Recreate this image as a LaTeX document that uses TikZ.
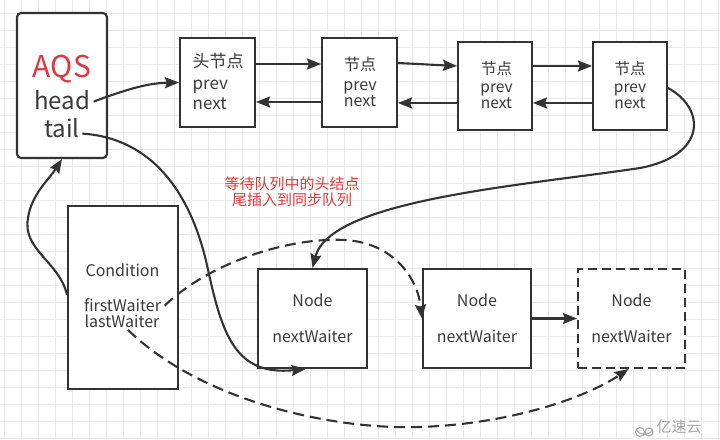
\documentclass[tikz,border=0pt]{standalone}
\usepackage{fontspec}
\setmainfont{Noto Sans CJK SC}
\usetikzlibrary{arrows.meta,calc}
\definecolor{ink}{HTML}{333333}
\definecolor{txtc}{HTML}{3A3A3A}
\definecolor{redt}{HTML}{E0383E}
\definecolor{gridminor}{HTML}{EAEAEA}
\definecolor{wm}{HTML}{A8A8A8}
\begin{document}
\begin{tikzpicture}[x=1pt,y=-1pt,
  box/.style={draw=ink,line width=2.1pt,fill=white,inner sep=0pt},
  dbox/.style={box,dash pattern=on 9pt off 5pt},
  txt/.style={text=txtc,inner sep=0.5pt,anchor=base,font=\fontsize{16}{16}\selectfont},
  arr/.style={draw=ink,line width=2.1pt,-{Stealth[length=14pt,width=11pt,inset=2pt]}},
  dsh/.style={arr,dash pattern=on 11pt off 6pt}]
\useasboundingbox (0,0) rectangle (720,439);
\fill[white] (0,0) rectangle (720,439);
\foreach \i in {0,...,42} {
  \draw[gridminor,line width=0.7pt] ({4.7+17*\i},0) -- ({4.7+17*\i},439);
}
\foreach \i in {0,...,26} {
  \draw[gridminor,line width=0.7pt] (0,{13+17*\i}) -- (720,{13+17*\i});
}
% boxes
\node[box,rounded corners=4pt,minimum width=90pt,minimum height=145pt] (aqs) at (62,85.5) {};
\node[box,minimum width=75pt,minimum height=89pt] (b1) at (217.5,82.5) {};
\node[box,minimum width=75pt,minimum height=89pt] (b2) at (359.5,82.5) {};
\node[box,minimum width=74pt,minimum height=88pt] (b3) at (495,86) {};
\node[box,minimum width=74pt,minimum height=88pt] (b4) at (630,86) {};
\node[box,minimum width=110pt,minimum height=183pt] (cond) at (123,297.5) {};
\node[box,minimum width=109pt,minimum height=99pt] (n1) at (312.5,318.5) {};
\node[box,minimum width=108pt,minimum height=99pt] (n2) at (477,318.5) {};
\node[dbox,minimum width=107pt,minimum height=99pt] (n3) at (631.5,318.5) {};
% texts
\node[txt,text=redt,font=\fontsize{30}{30}\selectfont] (aqst) at (62,77) {AQS};
\node[txt,font=\fontsize{24}{24}\selectfont] (head) at (62,109) {head};
\node[txt,font=\fontsize{24}{24}\selectfont] (tail) at (62,137) {tail};
\node[txt,anchor=base west,font=\fontsize{17}{17}\selectfont] (b1a) at (192,67) {头节点};
\node[txt,anchor=base west,font=\fontsize{17}{17}\selectfont] (b1b) at (192,89) {prev};
\node[txt,anchor=base west,font=\fontsize{17}{17}\selectfont] (b1c) at (192,109.5) {next};
\node[txt] (b2a) at (360,70.5) {节点};
\node[txt] (b2b) at (360,90) {prev};
\node[txt] (b2c) at (360,106) {next};
\node[txt,font=\fontsize{15.5}{15.5}\selectfont] (b3a) at (496.5,74) {节点};
\node[txt,font=\fontsize{15.5}{15.5}\selectfont] (b3b) at (496.5,92) {prev};
\node[txt,font=\fontsize{15.5}{15.5}\selectfont] (b3c) at (496.5,108) {next};
\node[txt,font=\fontsize{15.5}{15.5}\selectfont] (b4a) at (630,74) {节点};
\node[txt,font=\fontsize{15.5}{15.5}\selectfont] (b4b) at (630,92) {prev};
\node[txt,font=\fontsize{15.5}{15.5}\selectfont] (b4c) at (630,108) {next};
\node[txt] (condt) at (122.5,276) {Condition};
\node[txt] (fw) at (122.5,311) {firstWaiter};
\node[txt] (lw) at (122,327) {lastWaiter};
\node[txt] (n1a) at (312.5,306) {Node};
\node[txt] (n1b) at (312.5,342) {nextWaiter};
\node[txt] (n2a) at (477,306) {Node};
\node[txt] (n2b) at (477,342) {nextWaiter};
\node[txt] (n3a) at (631.5,306) {Node};
\node[txt] (n3b) at (631.5,342) {nextWaiter};
\node[txt,text=redt,align=center,font=\fontsize{15}{16.5}\selectfont,anchor=center] (note) at (292,192) {等待队列中的头结点\\尾插入到同步队列};
% watermark
\node[txt,text=wm,anchor=west,font=\fontsize{15}{15}\selectfont] (wmt) at (656,427) {亿速云};
\draw[wm,line width=1.1pt] (640,432) circle (4.5pt);
\draw[wm,line width=1.1pt] (649,432) circle (4pt);
\draw[wm,line width=1.1pt] (636,429) arc (200:330:9pt and 8pt);
% top list connectors
\draw[arr] ([yshift=18.5pt]b1.east) -- ([yshift=18.5pt]b2.west);
\draw[arr] ([yshift=-19.5pt]b2.west) -- ([yshift=-19.5pt]b1.east);
\draw[arr] ([yshift=19.5pt]b2.east) -- ([yshift=20pt]b3.west);
\draw[arr] ([yshift=-17pt]b3.west) -- ([yshift=-20.5pt]b2.east);
\draw[arr] ([yshift=20pt]b3.east) -- ([yshift=20pt]b4.west);
\draw[arr] ([yshift=-17pt]b4.west) -- ([yshift=-17pt]b3.east);
% head -> first node
\draw[arr] ([xshift=3pt,yshift=-2pt]head.east) .. controls (130,88) and (150,83) .. (b1.west);
% last node -> Node1
\draw[arr] ([yshift=-2pt]b4.east) .. controls (705,108) and (708,155) .. (640,168)
  .. controls (520,186) and (330,200) .. (n1.north);
% tail -> Node1 bottom
\draw[arr] ([xshift=2pt,yshift=-6pt]tail.east) .. controls (150,138) and (190,190) .. (207,265)
  .. controls (222,335) and (235,376) .. ([xshift=-7pt]n1.south);
% Condition -> AQS
\draw[arr] ([yshift=2.5pt]cond.west) .. controls (60,262) and (22,250) .. (28,218)
  .. controls (31,195) and (50,178) .. (aqs.south);
% firstWaiter -> Node2
\draw[dsh] ([xshift=3pt,yshift=-1pt]fw.east) .. controls (210,262) and (290,237) .. (345,240)
  .. controls (395,243) and (418,280) .. (n2.west);
% lastWaiter -> Node3
\draw[dsh] ([xshift=6pt,yshift=-2pt]lw.south) .. controls (200,400) and (330,430) .. (420,427)
  .. controls (510,424) and (585,398) .. ([xshift=-3pt]n3.south);
% Node2 -> Node3
\draw[arr] (n2.east) -- (n3.west);
\end{tikzpicture}
\end{document}
